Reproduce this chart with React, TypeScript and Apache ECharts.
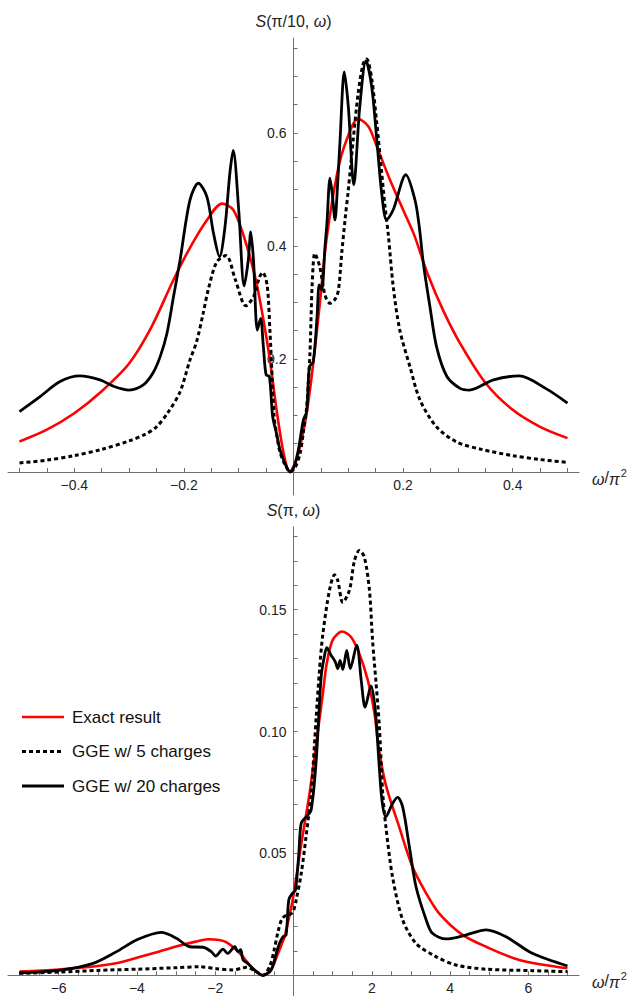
import React, { useEffect, useRef } from "react";
import * as echarts from "echarts";

// ---------- data ----------
const seriesNames = ["Exact result", "GGE w/ 5 charges", "GGE w/ 20 charges"];

// Top panel: S(pi/10, omega) vs omega/pi^2
const topExact: number[][] = [
  [-0.5, 0.054], [-0.45, 0.075], [-0.4, 0.104], [-0.35, 0.143], [-0.3, 0.192],
  [-0.26, 0.255], [-0.22, 0.338], [-0.19, 0.395], [-0.16, 0.443], [-0.13, 0.475],
  [-0.11, 0.464], [-0.09, 0.415], [-0.07, 0.345], [-0.055, 0.27], [-0.043, 0.198],
  [-0.03, 0.104], [-0.018, 0.033], [-0.007, 0.0], [0.004, 0.018], [0.012, 0.045],
  [0.024, 0.104], [0.036, 0.192], [0.048, 0.298], [0.06, 0.41], [0.08, 0.53],
  [0.097, 0.588], [0.118, 0.625], [0.137, 0.611], [0.152, 0.576], [0.176, 0.517],
  [0.2, 0.464], [0.22, 0.42], [0.245, 0.35], [0.275, 0.282], [0.305, 0.226],
  [0.35, 0.158], [0.4, 0.11], [0.45, 0.08], [0.5, 0.06],
];
const topGGE5: number[][] = [
  [-0.5, 0.016], [-0.45, 0.021], [-0.4, 0.029], [-0.35, 0.04], [-0.3, 0.055],
  [-0.27, 0.067], [-0.25, 0.08], [-0.23, 0.104], [-0.207, 0.142], [-0.189, 0.198],
  [-0.177, 0.23], [-0.165, 0.28], [-0.155, 0.325], [-0.14, 0.372], [-0.123, 0.383],
  [-0.106, 0.34], [-0.087, 0.294], [-0.073, 0.31], [-0.062, 0.345], [-0.056, 0.353],
  [-0.048, 0.33], [-0.043, 0.25], [-0.04, 0.19], [-0.0356, 0.1], [-0.031, 0.068],
  [-0.0246, 0.035], [-0.015, 0.012], [-0.006, 0.0], [0.003, 0.008], [0.012, 0.033],
  [0.018, 0.07], [0.024, 0.115], [0.03, 0.21], [0.034, 0.33], [0.039, 0.387],
  [0.048, 0.363], [0.0575, 0.313], [0.0666, 0.2985], [0.076, 0.306], [0.082, 0.322],
  [0.088, 0.387], [0.094, 0.446], [0.1, 0.499], [0.109, 0.588], [0.118, 0.67],
  [0.127, 0.722], [0.1336, 0.731], [0.143, 0.694], [0.152, 0.617], [0.161, 0.529],
  [0.167, 0.47], [0.173, 0.42], [0.182, 0.328], [0.194, 0.251], [0.2126, 0.186],
  [0.231, 0.127], [0.261, 0.08], [0.298, 0.053], [0.343, 0.04], [0.4, 0.029],
  [0.45, 0.022], [0.5, 0.017],
];
const topGGE20: number[][] = [
  [-0.5, 0.107], [-0.463, 0.133], [-0.426, 0.16], [-0.39, 0.17], [-0.353, 0.163],
  [-0.329, 0.152], [-0.3, 0.145], [-0.274, 0.154], [-0.256, 0.176], [-0.243, 0.205],
  [-0.231, 0.245], [-0.219, 0.31], [-0.207, 0.375], [-0.189, 0.481], [-0.1737, 0.511],
  [-0.158, 0.487], [-0.146, 0.4225], [-0.135, 0.381], [-0.125, 0.434], [-0.116, 0.53],
  [-0.11, 0.569], [-0.1, 0.464], [-0.09, 0.329], [-0.0825, 0.375], [-0.078, 0.425],
  [-0.073, 0.375], [-0.066, 0.251], [-0.06, 0.272], [-0.055, 0.222], [-0.05, 0.172],
  [-0.044, 0.169], [-0.038, 0.098], [-0.031, 0.068], [-0.0246, 0.039], [-0.0155, 0.015],
  [-0.006, 0.0], [0.0, 0.0065], [0.0088, 0.039], [0.018, 0.092], [0.024, 0.107],
  [0.029, 0.186], [0.036, 0.195], [0.043, 0.275], [0.047, 0.331], [0.0515, 0.322],
  [0.0575, 0.399], [0.061, 0.44], [0.0666, 0.52], [0.071, 0.49], [0.0757, 0.446],
  [0.08, 0.5], [0.085, 0.588], [0.0927, 0.708], [0.1, 0.647], [0.11, 0.508],
  [0.121, 0.647], [0.1323, 0.728], [0.1427, 0.682], [0.152, 0.588], [0.161, 0.493],
  [0.17, 0.446], [0.182, 0.464], [0.205, 0.526], [0.222, 0.48], [0.23, 0.43],
  [0.237, 0.369], [0.249, 0.2925], [0.261, 0.222], [0.28, 0.169], [0.304, 0.148],
  [0.321, 0.145], [0.365, 0.163], [0.412, 0.17], [0.46, 0.148], [0.5, 0.122],
];

// Bottom panel: S(pi, omega) vs omega/pi^2
const bottomExact: number[][] = [
  [-7, 0.0015], [-6, 0.0024], [-5, 0.0038], [-4.5, 0.005], [-4, 0.0072],
  [-3.5, 0.0094], [-3, 0.0118], [-2.5, 0.0138], [-2.19, 0.0148], [-1.9, 0.0145],
  [-1.72, 0.0136], [-1.5, 0.011], [-1.3, 0.0078], [-1.12, 0.0042], [-0.95, 0.0015],
  [-0.78, 0.0], [-0.65, 0.0012], [-0.53, 0.0035], [-0.42, 0.008], [-0.31, 0.0124],
  [-0.23, 0.0158], [-0.145, 0.0215], [-0.02, 0.031], [0.2, 0.054], [0.41, 0.0746],
  [0.58, 0.095], [0.75, 0.1156], [0.85, 0.128], [1.0, 0.1375], [1.24, 0.141],
  [1.47, 0.1388], [1.68, 0.132], [1.9, 0.121], [2.07, 0.1074], [2.17, 0.094],
  [2.36, 0.078], [2.7, 0.0609], [3.04, 0.0445], [3.39, 0.0336], [3.72, 0.0254],
  [4.3, 0.0168], [4.92, 0.0117], [5.77, 0.0063], [7, 0.0029],
];
const bottomGGE5: number[][] = [
  [-7, 0.0008], [-6, 0.0013], [-5, 0.002], [-4, 0.0025], [-3, 0.0031],
  [-2.4, 0.0035], [-1.97, 0.0027], [-1.55, 0.0022], [-1.3, 0.003], [-1.2, 0.0033],
  [-0.95, 0.0015], [-0.78, 0.0], [-0.6, 0.004], [-0.5, 0.01], [-0.4, 0.0175],
  [-0.3, 0.023], [-0.2, 0.0245], [-0.08, 0.025], [0.0, 0.0265], [0.07, 0.031],
  [0.2, 0.042], [0.32, 0.0568], [0.45, 0.0746], [0.58, 0.106], [0.663, 0.125],
  [0.75, 0.14], [0.92, 0.158], [1.05, 0.1643], [1.13, 0.162], [1.26, 0.153],
  [1.43, 0.158], [1.556, 0.17], [1.68, 0.1743], [1.81, 0.1716], [1.94, 0.158],
  [2.02, 0.1374], [2.11, 0.1197], [2.19, 0.103], [2.28, 0.0746], [2.36, 0.061],
  [2.53, 0.0404], [2.79, 0.0227], [3.13, 0.0131], [3.6, 0.008], [4.15, 0.0042],
  [4.92, 0.0025], [6.1, 0.0019], [7, 0.0015],
];
const bottomGGE20: number[][] = [
  [-7, 0.001], [-6, 0.002], [-5.12, 0.0049], [-4.52, 0.0097], [-4.01, 0.0145],
  [-3.375, 0.0176], [-2.99, 0.0152], [-2.65, 0.0117], [-2.31, 0.0115], [-2.1, 0.0097],
  [-1.99, 0.0079], [-1.8, 0.0107], [-1.68, 0.009], [-1.5, 0.0117], [-1.42, 0.0097],
  [-1.35, 0.0105], [-1.29, 0.0063], [-1.17, 0.0049], [-1.0, 0.0022], [-0.78, 0.0],
  [-0.57, 0.0022], [-0.44, 0.009], [-0.357, 0.0131], [-0.27, 0.0158], [-0.19, 0.0165],
  [-0.12, 0.031], [-0.03, 0.0336], [0.05, 0.035], [0.136, 0.05], [0.196, 0.0623],
  [0.324, 0.065], [0.45, 0.0677], [0.58, 0.0882], [0.706, 0.1224], [0.79, 0.131],
  [0.85, 0.1344], [0.96, 0.1313], [1.07, 0.1285], [1.13, 0.1258], [1.19, 0.1292],
  [1.26, 0.1254], [1.36, 0.1333], [1.45, 0.1258], [1.615, 0.1354], [1.73, 0.121],
  [1.83, 0.11], [1.98, 0.1187], [2.09, 0.1087], [2.18, 0.0882], [2.26, 0.0718],
  [2.36, 0.065], [2.53, 0.0705], [2.66, 0.073], [2.79, 0.069], [2.96, 0.0527],
  [3.13, 0.0363], [3.39, 0.0227], [3.55, 0.0172], [3.9, 0.0149], [4.4, 0.0165],
  [4.92, 0.0186], [5.43, 0.0158], [6.1, 0.009], [7, 0.0038],
];

// Ticks and labels
const topXTicks = [-0.5, -0.45, -0.4, -0.35, -0.3, -0.25, -0.2, -0.15, -0.1, -0.05,
  0.05, 0.1, 0.15, 0.2, 0.25, 0.3, 0.35, 0.4, 0.45, 0.5];
const topXLabels = [-0.4, -0.2, 0.2, 0.4];
const topYTicks = [0.05, 0.1, 0.15, 0.2, 0.25, 0.3, 0.35, 0.4, 0.45, 0.5, 0.55, 0.6, 0.65, 0.7, 0.75];
const topYLabels = [0.2, 0.4, 0.6];
const bottomXTicks = [-7, -6.5, -6, -5.5, -5, -4.5, -4, -3.5, -3, -2.5, -2, -1.5, -1, -0.5,
  0.5, 1, 1.5, 2, 2.5, 3, 3.5, 4, 4.5, 5, 5.5, 6, 6.5, 7];
const bottomXLabels = [-6, -4, -2, 2, 4, 6];
const bottomYTicks = [0.01, 0.02, 0.03, 0.04, 0.05, 0.06, 0.07, 0.08, 0.09, 0.1, 0.11, 0.12,
  0.13, 0.14, 0.15, 0.16, 0.17, 0.18];
const bottomYLabels = [0.05, 0.1, 0.15];

const FONT = '"Liberation Sans", Arial, Helvetica, sans-serif';
const AXIS_COLOR = "#6e6e6e";
const LABEL_COLOR = "#222";
const TICK_FONT = 14;
const TITLE_FONT = 16;
const LEGEND_FONT = 17;

// layout (pixels)
const PLOT_LEFT = 8;
const PLOT_WIDTH = 571;
const TOP_GRID = { top: 38, height: 457 };
const BOTTOM_GRID = { top: 527, height: 469 };
const TOP_X_RANGE = [-0.521, 0.521];
const TOP_Y_RANGE = [-0.0407, 0.768];
const BOTTOM_X_RANGE = [-7.294, 7.294];
const BOTTOM_Y_RANGE = [-0.0085, 0.1839];

const minus = (s: string) => s.replace("-", "\u2212");

function xAxisDef(gridIndex: number, range: number[], yRange: number[], grid: { top: number; height: number },
  ticks: number[], labels: number[], fmt: (v: number) => string) {
  // place the axis on y = 0
  const zeroPx = grid.top + grid.height * (yRange[1] / (yRange[1] - yRange[0]));
  const offset = zeroPx - (grid.top + grid.height);
  return {
    type: "value",
    gridIndex,
    min: range[0],
    max: range[1],
    position: "bottom",
    offset,
    name: "{i|ω}/{i|π}{s|2}",
    nameLocation: "end",
    nameGap: 13,
    nameTextStyle: {
      color: LABEL_COLOR,
      fontFamily: FONT,
      fontSize: TITLE_FONT,
      padding: [10, 0, 0, 0],
      rich: {
        i: { fontStyle: "italic", fontSize: TITLE_FONT, fontFamily: FONT, color: LABEL_COLOR, lineHeight: 20, verticalAlign: "bottom" },
        s: { fontSize: 11, fontFamily: FONT, color: LABEL_COLOR, lineHeight: 20, verticalAlign: "top", padding: [0, 0, 0, 1] },
      },
    },
    axisLine: { show: true, onZero: false, lineStyle: { color: AXIS_COLOR, width: 1 } },
    axisTick: { show: true, inside: true, length: 4, customValues: ticks, lineStyle: { color: AXIS_COLOR, width: 1 } },
    axisLabel: {
      show: true,
      customValues: labels,
      formatter: (v: number) => fmt(v),
      fontSize: TICK_FONT,
      fontFamily: FONT,
      color: LABEL_COLOR,
      margin: 6,
    },
    splitLine: { show: false },
  };
}

function yAxisDef(gridIndex: number, range: number[], xRange: number[], ticks: number[], labels: number[],
  nameText: string, fmt: (v: number) => string) {
  // place the axis on x = 0
  const zeroPx = PLOT_LEFT + PLOT_WIDTH * ((0 - xRange[0]) / (xRange[1] - xRange[0]));
  const offset = -(zeroPx - PLOT_LEFT);
  return {
    type: "value",
    gridIndex,
    min: range[0],
    max: range[1],
    position: "left",
    offset,
    name: nameText,
    nameLocation: "end",
    nameGap: 9,
    nameTextStyle: {
      color: LABEL_COLOR,
      fontFamily: FONT,
      fontSize: TITLE_FONT,
      rich: {
        i: { fontStyle: "italic", fontSize: TITLE_FONT, fontFamily: FONT, color: LABEL_COLOR },
        n: { fontSize: TITLE_FONT, fontFamily: FONT, color: LABEL_COLOR },
      },
    },
    axisLine: { show: true, onZero: false, lineStyle: { color: AXIS_COLOR, width: 1 } },
    axisTick: { show: true, inside: true, length: 4, customValues: ticks, lineStyle: { color: AXIS_COLOR, width: 1 } },
    axisLabel: {
      show: true,
      customValues: labels,
      formatter: (v: number) => fmt(v),
      fontSize: TICK_FONT,
      fontFamily: FONT,
      color: LABEL_COLOR,
      margin: 7,
    },
    splitLine: { show: false },
  };
}

const STYLES: Record<string, any> = {
  red: { color: "#ff0000", width: 2.6, type: "solid" },
  dot: { color: "#000000", width: 3, type: [4, 3], cap: "butt" },
  solid: { color: "#000000", width: 2.8, type: "solid" },
};

function lineSeries(name: string, data: number[][], idx: number, kind: "red" | "dot" | "solid") {
  const lineStyle = STYLES[kind];
  return {
    name,
    type: "line",
    xAxisIndex: idx,
    yAxisIndex: idx,
    data,
    smooth: 0.3,
    symbol: "none",
    showSymbol: false,
    lineStyle,
    itemStyle: { color: lineStyle.color },
    z: kind === "solid" ? 4 : kind === "dot" ? 3 : 2,
  };
}

function legendGraphics() {
  const kinds = ["red", "dot", "solid"];
  const x0 = 22, x1 = 64, textX = 72, y0 = 717, gap = 34.5;
  const els: any[] = [];
  seriesNames.forEach((n, i) => {
    const s = STYLES[kinds[i]];
    const y = y0 + i * gap;
    els.push({
      type: "line",
      shape: { x1: x0, y1: y, x2: x1, y2: y },
      style: { stroke: s.color, lineWidth: s.width, lineDash: Array.isArray(s.type) ? s.type : null, lineCap: "butt" },
      silent: true,
    });
    els.push({
      type: "text",
      x: textX,
      y,
      style: { text: n, fill: "#111", font: `${LEGEND_FONT}px ${FONT}`, verticalAlign: "middle", align: "left" },
      silent: true,
    });
  });
  return els;
}

export default function App() {
  const ref = useRef<HTMLDivElement>(null);

  useEffect(() => {
    if (!ref.current) return;
    const chart = echarts.init(ref.current, undefined, { renderer: "svg" });
    const option: any = {
      animation: false,
      backgroundColor: "#ffffff",
      textStyle: { fontFamily: FONT },
      grid: [
        { left: PLOT_LEFT, top: TOP_GRID.top, width: PLOT_WIDTH, height: TOP_GRID.height, containLabel: false },
        { left: PLOT_LEFT, top: BOTTOM_GRID.top, width: PLOT_WIDTH, height: BOTTOM_GRID.height, containLabel: false },
      ],
      xAxis: [
        xAxisDef(0, TOP_X_RANGE, TOP_Y_RANGE, TOP_GRID, topXTicks, topXLabels, (v) => minus(v.toFixed(1))),
        xAxisDef(1, BOTTOM_X_RANGE, BOTTOM_Y_RANGE, BOTTOM_GRID, bottomXTicks, bottomXLabels, (v) => minus(String(v))),
      ],
      yAxis: [
        yAxisDef(0, TOP_Y_RANGE, TOP_X_RANGE, topYTicks, topYLabels, "{i|S}{n|(π/10, }{i|ω}{n|)}", (v) => v.toFixed(1)),
        yAxisDef(1, BOTTOM_Y_RANGE, BOTTOM_X_RANGE, bottomYTicks, bottomYLabels, "{i|S}{n|(π, }{i|ω}{n|)}", (v) => v.toFixed(2)),
      ],
      graphic: legendGraphics(),
      series: [
        lineSeries(seriesNames[0], topExact, 0, "red"),
        lineSeries(seriesNames[1], topGGE5, 0, "dot"),
        lineSeries(seriesNames[2], topGGE20, 0, "solid"),
        lineSeries(seriesNames[0], bottomExact, 1, "red"),
        lineSeries(seriesNames[1], bottomGGE5, 1, "dot"),
        lineSeries(seriesNames[2], bottomGGE20, 1, "solid"),
      ],
    };
    chart.setOption(option);
    return () => chart.dispose();
  }, []);

  return (
    <div
      ref={ref}
      style={{ position: "absolute", left: 0, top: 0, width: 629, height: 996, background: "#fff" }}
    />
  );
}
